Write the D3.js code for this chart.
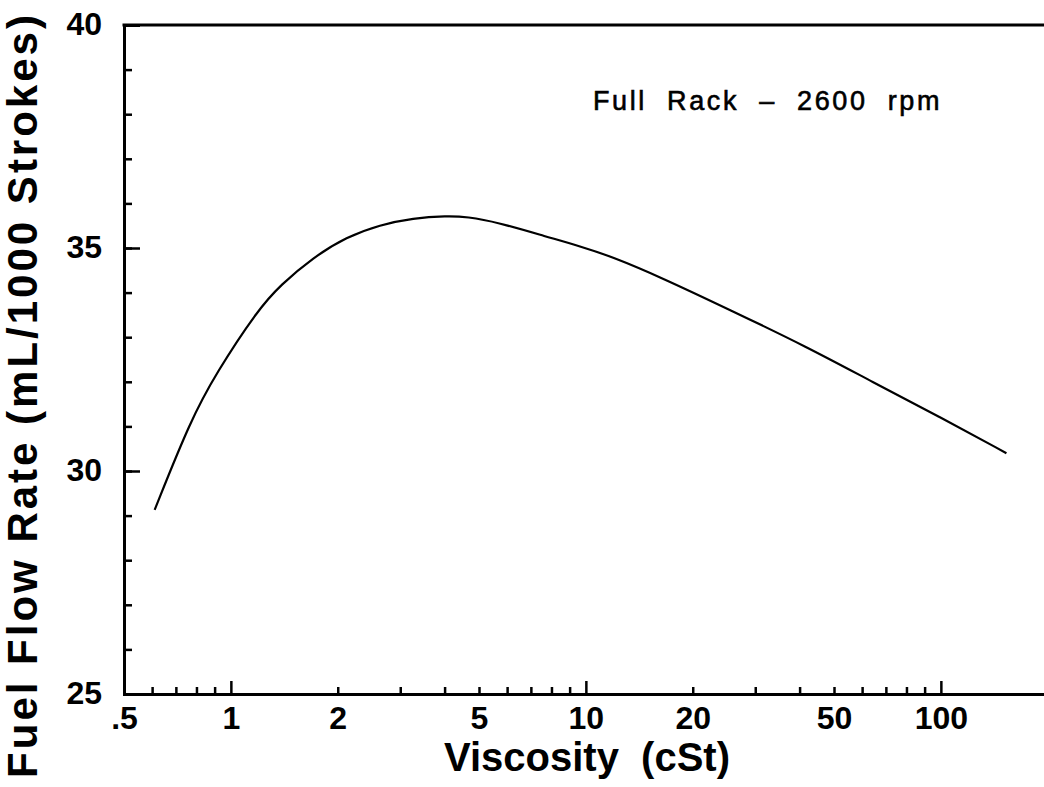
<!DOCTYPE html>
<html>
<head>
<meta charset="utf-8">
<script src="https://cdn.jsdelivr.net/npm/d3@7"></script>
<style>
  body { margin: 0; background: #fff; }
  svg { display: block; }
  text { font-family: "Liberation Sans", Arial, sans-serif; fill: #000; white-space: pre; }
</style>
</head>
<body>
<script>
// curve: viscosity (cSt) vs fuel flow (mL/1000 strokes)
var viscosity = [0.61, 0.77, 0.91, 1.19, 1.38, 1.70, 2.12, 2.63, 3.26, 4.06, 4.63, 5.62, 7.77, 9.63, 11.9, 16.2, 25.5, 42.0, 64.4, 99.5, 153];
var flowRate  = [29.13, 31.14, 32.20, 33.61, 34.17, 34.78, 35.25, 35.52, 35.67, 35.72, 35.70, 35.58, 35.25, 35.04, 34.80, 34.35, 33.61, 32.78, 31.99, 31.21, 30.40];

var xLabelTicks = [0.5, 1, 2, 5, 10, 20, 50, 100];
var xMajorTicks = [1, 10, 100];
var xMinorTicks = [0.6, 0.7, 0.8, 0.9, 2, 3, 4, 5, 6, 7, 8, 9, 20, 30, 40, 50, 60, 70, 80, 90];
var yMajorTicks = [25, 30, 35, 40];
var yMinorTicks = d3.range(26, 40);

var width = 1044,
    height = 787;

var svg = d3.select("body")
    .append("svg")
        .attr("width", width)
        .attr("height", height);

var x = d3.scaleLog()
    .domain([0.5, 200])
    .range([124, 124 + 355 * Math.log10(400)]);

var y = d3.scaleLinear()
    .domain([25, 40])
    .range([694, 25]);

// x axis: minor ticks, major ticks, then labels
svg.append("g")
    .attr("transform", "translate(0," + y(25) + ")")
    .call(d3.axisBottom(x).tickValues(xMinorTicks).tickSize(-7).tickFormat(""));

svg.append("g")
    .attr("transform", "translate(0," + y(25) + ")")
    .call(d3.axisBottom(x).tickValues(xMajorTicks).tickSize(-13).tickFormat(""));

svg.append("g")
    .attr("class", "xlabels")
    .attr("transform", "translate(0," + y(25) + ")")
    .call(d3.axisBottom(x).tickValues(xLabelTicks).tickSize(0).tickPadding(12)
        .tickFormat(function(d) { return d === 0.5 ? ".5" : d; }));

// y axis
svg.append("g")
    .attr("transform", "translate(" + x(0.5) + ",0)")
    .call(d3.axisLeft(y).tickValues(yMinorTicks).tickSize(-8).tickFormat(""));

svg.append("g")
    .attr("class", "ylabels")
    .attr("transform", "translate(" + x(0.5) + ",0)")
    .call(d3.axisLeft(y).tickValues(yMajorTicks).tickSize(-16));

svg.selectAll(".domain")
    .attr("stroke", "#000")
    .attr("stroke-width", 3);

svg.selectAll(".tick line")
    .attr("stroke", "#000")
    .attr("stroke-width", 2.5);

svg.selectAll(".tick text")
    .style("font-size", "32px")
    .style("font-weight", "bold")
    .style("font-family", "'Liberation Sans', Arial, sans-serif")
    .attr("fill", "#000");

svg.selectAll(".ylabels .tick text")
    .attr("x", -22)
    .attr("dy", "0.3em");

// top border
svg.append("line")
    .attr("x1", x(0.5) - 1.5)
    .attr("x2", width)
    .attr("y1", y(40))
    .attr("y2", y(40))
    .attr("stroke", "#000")
    .attr("stroke-width", 3);

// curve
var line = d3.line()
    .x(function(d, i) { return x(viscosity[i]); })
    .y(function(d, i) { return y(flowRate[i]); })
    .curve(d3.curveBasis);

svg.append("path")
    .datum(viscosity)
    .attr("d", line)
    .attr("fill", "none")
    .attr("stroke", "#000")
    .attr("stroke-width", 2.2);

// titles
svg.append("text")
    .attr("x", 587)
    .attr("y", 771)
    .attr("text-anchor", "middle")
    .style("font-size", "40px")
    .style("font-weight", "bold")
    .text("Viscosity  (cSt)");

svg.append("text")
    .attr("transform", "translate(37,395) rotate(-90)")
    .attr("text-anchor", "middle")
    .style("font-size", "42px")
    .style("font-weight", "bold")
    .style("letter-spacing", "3px")
    .text("Fuel Flow Rate (mL/1000 Strokes)");

svg.append("text")
    .attr("x", 593)
    .attr("y", 110)
    .style("font-size", "27px")
    .style("letter-spacing", "2.6px")
    .style("stroke", "#000")
    .style("stroke-width", "0.6px")
    .text("Full  Rack  –  2600  rpm");
</script>
</body>
</html>
